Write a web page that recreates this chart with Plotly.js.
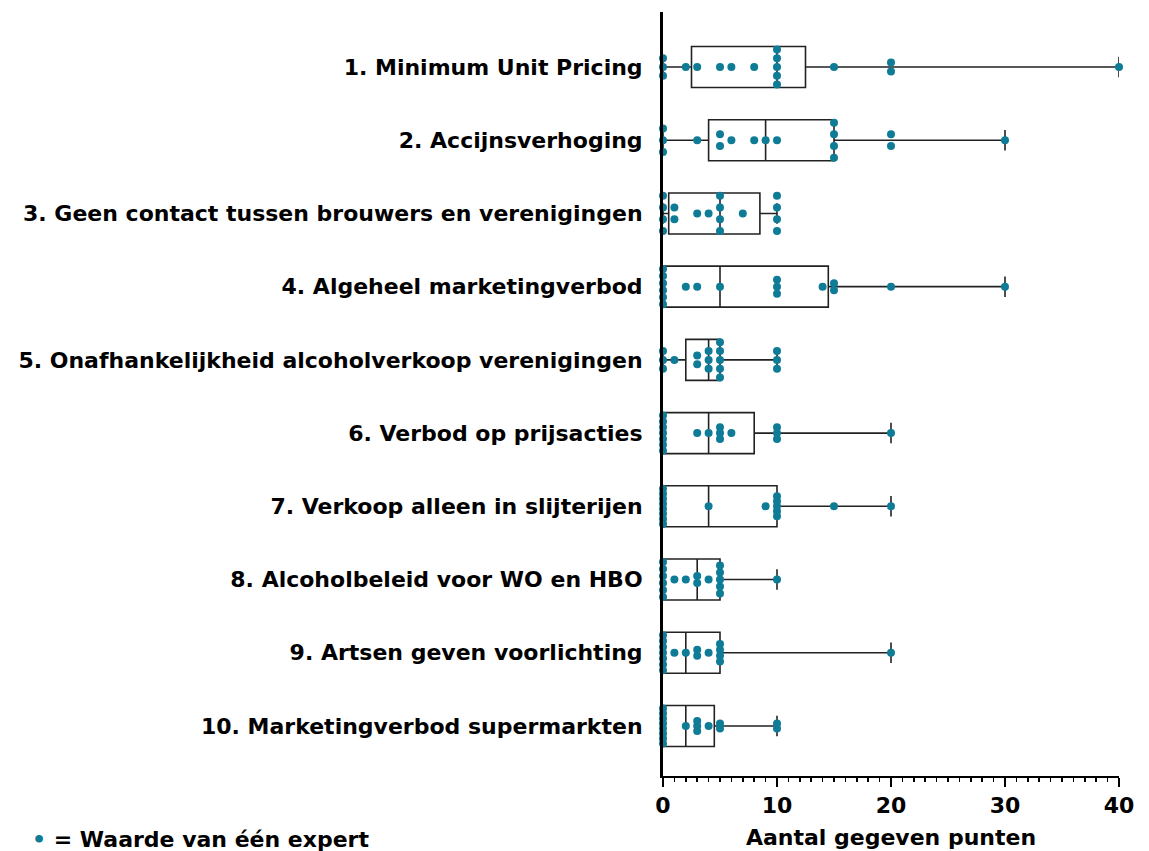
<!DOCTYPE html>
<html>
<head>
<meta charset="utf-8">
<script src="https://cdn.plot.ly/plotly-3.0.1.min.js"></script>
<style>
  html, body { margin: 0; padding: 0; background: #ffffff; }
  #chart { width: 1149px; height: 851px; }
</style>
</head>
<body>
<div id="chart"></div>
<script>
// ---- Data (points given by each expert) ----
const categories = [
  "1. Minimum Unit Pricing",
  "2. Accijnsverhoging",
  "3. Geen contact tussen brouwers en verenigingen",
  "4. Algeheel marketingverbod",
  "5. Onafhankelijkheid alcoholverkoop verenigingen",
  "6. Verbod op prijsacties",
  "7. Verkoop alleen in slijterijen",
  "8. Alcoholbeleid voor WO en HBO",
  "9. Artsen geven voorlichting",
  "10. Marketingverbod supermarkten"
];
const minimumUnitPricing   = [0,0,0,2,3,5,6,8,10,10,10,10,10,15,20,20,40];
const accijnsverhoging     = [0,0,0,3,5,5,6,8,9,10,15,15,15,15,20,20,30];
const geenContact          = [0,0,0,0,1,1,3,4,5,5,5,5,7,10,10,10,10];
const marketingverbod      = [0,0,0,0,0,0,2,3,5,10,10,10,14,15,15,20,30];
const onafhankelijkheid    = [0,0,0,1,3,3,4,4,4,5,5,5,5,5,10,10,10];
const prijsacties          = [0,0,0,0,0,0,0,3,4,5,5,5,6,10,10,10,20];
const slijterijen          = [0,0,0,0,0,0,0,0,4,9,10,10,10,10,10,15,20];
const woHbo                = [0,0,0,0,0,0,1,2,3,3,4,5,5,5,5,5,10];
const artsen               = [0,0,0,0,0,0,0,1,2,3,3,4,5,5,5,5,20];
const supermarkten         = [0,0,0,0,0,0,0,0,2,3,3,3,4,5,5,10,10];
const series = [minimumUnitPricing, accijnsverhoging, geenContact, marketingverbod,
  onafhankelijkheid, prijsacties, slijterijen, woHbo, artsen, supermarkten];
const xTickVals = [0, 10, 20, 30, 40];
const xTitle = "Aantal gegeven punten";
const legendNote = "= Waarde van één expert";

// ---- Style ----
const TEAL = "#0f7c97";
const FONT = "DejaVu Sans";
const FS = 22;

// quantile by (n+1)p method
function quant(sorted, p) {
  const n = sorted.length;
  const pos = p * (n + 1);
  if (pos <= 1) return sorted[0];
  if (pos >= n) return sorted[n - 1];
  const lo = Math.floor(pos), fr = pos - lo;
  return sorted[lo - 1] + fr * (sorted[lo] - sorted[lo - 1]);
}

const pos = categories.map((c, i) => i + 1);
const q1 = [], med = [], q3 = [], lo = [], hi = [];
const dx = [], dy = [];
series.forEach((vals, i) => {
  const s = vals.slice().sort((a, b) => a - b);
  q1.push(quant(s, 0.25)); med.push(quant(s, 0.5)); q3.push(quant(s, 0.75));
  lo.push(s[0]); hi.push(s[s.length - 1]);
  // swarm stacking of equal values
  const groups = {};
  s.forEach(v => { groups[v] = (groups[v] || 0) + 1; });
  const maxStack = Math.max(...Object.values(groups));
  const step = maxStack > 1 ? Math.min(0.16, 0.48 / (maxStack - 1)) : 0;
  Object.keys(groups).forEach(k => {
    const n = groups[k];
    for (let j = 0; j < n; j++) {
      dx.push(+k);
      dy.push(pos[i] + (j - (n - 1) / 2) * step);
    }
  });
});

const boxTrace = {
  type: "box", orientation: "h",
  y: pos, q1: q1, median: med, q3: q3, lowerfence: lo, upperfence: hi,
  boxpoints: false, width: 0.56, whiskerwidth: 0.5,
  fillcolor: "rgba(255,255,255,0)",
  line: { color: "#222222", width: 1.6 },
  hoverinfo: "skip", showlegend: false
};
const dotTrace = {
  type: "scatter", mode: "markers", x: dx, y: dy,
  marker: { color: TEAL, size: 8 },
  cliponaxis: false, hoverinfo: "skip", showlegend: false
};

const boldFont = { family: FONT, size: FS, weight: "bold", color: "#000" };

const layout = {
  width: 1149, height: 851,
  margin: { l: 663, r: 30, t: 12, b: 75, pad: 0 },
  paper_bgcolor: "#ffffff", plot_bgcolor: "#ffffff",
  showlegend: false,
  font: { family: FONT, color: "#000" },
  xaxis: {
    range: [0, 40], autorange: false,
    tickvals: xTickVals, ticktext: xTickVals.map(String),
    ticks: "outside", ticklen: 9, tickwidth: 2, tickcolor: "#000",
    minor: { dtick: 1, ticks: "outside", ticklen: 4, tickwidth: 1.5, tickcolor: "#000", showgrid: false },
    showline: true, linecolor: "#000", linewidth: 2,
    showgrid: false, zeroline: false,
    tickfont: boldFont,
    ticklabelstandoff: 0,
    title: { text: xTitle, font: boldFont, standoff: 12 }
  },
  yaxis: {
    range: [10.683, 0.249], autorange: false,
    tickvals: pos, ticktext: categories,
    ticks: "", showline: true, linecolor: "#000", linewidth: 3,
    showgrid: false, zeroline: false,
    tickfont: boldFont,
    ticklabelstandoff: 13
  },
  annotations: [{
    xref: "paper", yref: "paper",
    x: (30 - 663) / 456, y: (776 - 839) / 764,
    xanchor: "left", yanchor: "middle", showarrow: false,
    text: '<span style="color:' + TEAL + '">•</span> ' + legendNote,
    font: boldFont
  }]
};

Plotly.newPlot("chart", [boxTrace, dotTrace], layout, { displayModeBar: false, staticPlot: true });
</script>
</body>
</html>
